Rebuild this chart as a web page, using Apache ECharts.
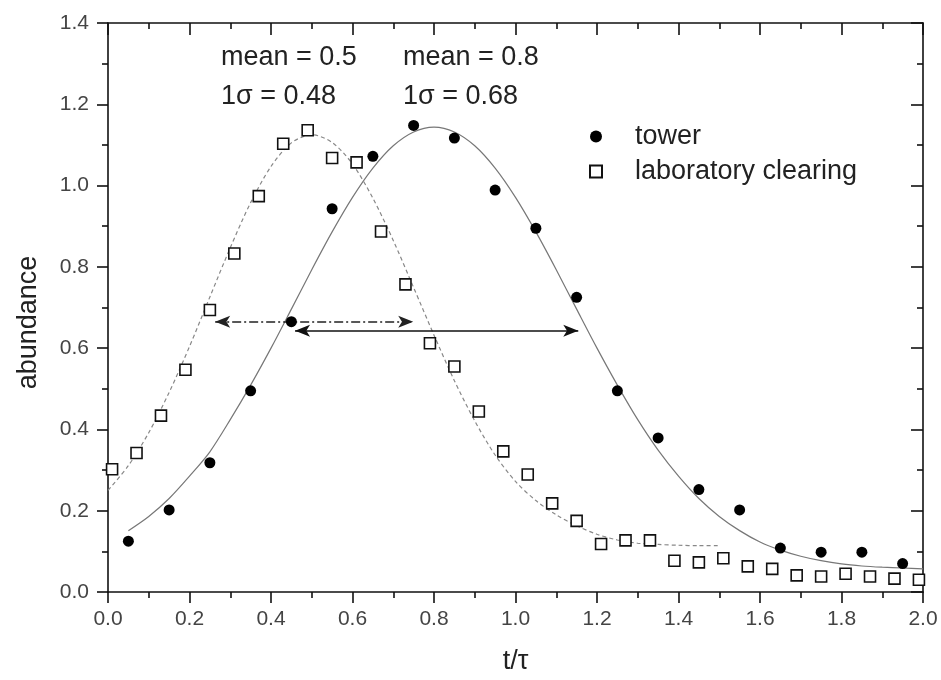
<!DOCTYPE html>
<html>
<head>
<meta charset="utf-8">
<script src="https://cdn.jsdelivr.net/npm/echarts@6/dist/echarts.min.js"></script>
<style>
html,body{margin:0;padding:0;background:#fff;}
#chart{width:941px;height:680px;}
</style>
</head>
<body>
<div id="chart"></div>
<script>
// ---- data ----
var towerX = [0.05,0.15,0.25,0.35,0.45,0.55,0.65,0.75,0.85,0.95,1.05,1.15,1.25,1.35,1.45,1.55,1.65,1.75,1.85,1.95];
var towerY = [0.125,0.202,0.318,0.495,0.665,0.943,1.072,1.148,1.117,0.989,0.895,0.725,0.495,0.379,0.252,0.202,0.108,0.098,0.098,0.070];

var labX = [0.01,0.07,0.13,0.19,0.25,0.31,0.37,0.43,0.49,0.55,0.61,0.67,0.73,0.79,0.85,0.91,0.97,1.03,1.09,1.15,1.21,1.27,1.33,1.39,1.45,1.51,1.57,1.63,1.69,1.75,1.81,1.87,1.93,1.99];
var labY = [0.302,0.342,0.434,0.547,0.694,0.833,0.974,1.103,1.136,1.068,1.057,0.887,0.757,0.612,0.555,0.444,0.346,0.289,0.218,0.175,0.118,0.127,0.127,0.077,0.073,0.083,0.063,0.057,0.041,0.038,0.045,0.038,0.033,0.030];

var towerFitX = [0.05,0.10,0.15,0.20,0.25,0.30,0.35,0.40,0.45,0.50,0.55,0.60,0.65,0.70,0.75,0.80,0.85,0.90,0.95,1.00,1.05,1.10,1.15,1.20,1.25,1.30,1.35,1.40,1.45,1.50,1.55,1.60,1.65,1.70,1.75,1.80,1.85,1.90,1.95,2.00];
var towerFitY = [0.151,0.186,0.230,0.285,0.345,0.424,0.509,0.600,0.696,0.793,0.886,0.971,1.043,1.098,1.132,1.144,1.132,1.098,1.043,0.971,0.886,0.793,0.696,0.600,0.509,0.424,0.349,0.285,0.230,0.186,0.151,0.123,0.103,0.088,0.077,0.069,0.064,0.061,0.059,0.057];

var labFitX = [0.00,0.05,0.10,0.15,0.20,0.25,0.30,0.35,0.40,0.45,0.50,0.55,0.60,0.65,0.70,0.75,0.80,0.85,0.90,0.95,1.00,1.05,1.10,1.15,1.20,1.25,1.30,1.35,1.40,1.45,1.50];
var labFitY = [0.250,0.311,0.392,0.491,0.604,0.726,0.847,0.958,1.047,1.105,1.125,1.106,1.053,0.969,0.865,0.749,0.632,0.520,0.421,0.337,0.272,0.225,0.190,0.163,0.142,0.128,0.120,0.117,0.115,0.114,0.114];

// width arrows (x from, x to, y)
var labArrowX = [0.263, 0.749];
var labArrowY = 0.665;
var towerArrowX = [0.459, 1.154];
var towerArrowY = 0.643;

var xTicks = {min: 0, max: 2.0, interval: 0.2};
var yTicks = {min: 0, max: 1.4, interval: 0.2};

var seriesNames = ['tower', 'laboratory clearing'];
var annotations = [
  {text: 'mean = 0.5', x: 221, y: 60},
  {text: '1\u03c3 = 0.48', x: 221, y: 99},
  {text: 'mean = 0.8', x: 403, y: 60},
  {text: '1\u03c3 = 0.68', x: 403, y: 99}
];

function pairs(xs, ys) { return xs.map(function (x, i) { return [x, ys[i]]; }); }

var FONT = 'Liberation Sans, Arial, sans-serif';
var chart = echarts.init(document.getElementById('chart'), null, {renderer: 'canvas'});

var baseX = {
  type: 'value', min: xTicks.min, max: xTicks.max, interval: xTicks.interval,
  splitLine: {show: false},
  axisLine: {show: true, onZero: false, lineStyle: {color: '#111', width: 1.6}}
};
var baseY = {
  type: 'value', min: yTicks.min, max: yTicks.max, interval: yTicks.interval,
  splitLine: {show: false},
  axisLine: {show: true, onZero: false, lineStyle: {color: '#111', width: 1.6}}
};

var option = {
  backgroundColor: '#fff',
  animation: false,
  textStyle: {fontFamily: FONT},
  grid: {left: 108, right: 18, top: 23, bottom: 86, containLabel: false},
  legend: {
    orient: 'vertical', left: 584, top: 116,
    itemWidth: 12, itemHeight: 12, itemGap: 4,
    data: seriesNames,
    textStyle: {fontSize: 27, color: '#222', fontFamily: FONT, padding: [0, 0, 0, 28], lineHeight: 31}
  },
  xAxis: [
    Object.assign({}, baseX, {
      position: 'bottom',
      name: 't/\u03c4', nameLocation: 'middle', nameGap: 56,
      nameTextStyle: {fontSize: 27, color: '#222', fontFamily: FONT},
      axisTick: {show: true, inside: false, length: 11, lineStyle: {color: '#111', width: 1.6}},
      minorTick: {show: true, splitNumber: 2, length: 6, lineStyle: {color: '#111', width: 1.6}},
      axisLabel: {show: true, margin: 17, fontSize: 21, color: '#444', fontFamily: FONT,
        formatter: function (v) { return v.toFixed(1); }}
    }),
    Object.assign({}, baseX, {
      position: 'top',
      axisTick: {show: true, inside: true, length: 12, lineStyle: {color: '#111', width: 1.6}},
      minorTick: {show: true, splitNumber: 2, length: 6, lineStyle: {color: '#111', width: 1.6}},
      axisLabel: {show: false}
    })
  ],
  yAxis: [
    Object.assign({}, baseY, {
      position: 'left',
      name: 'abundance', nameLocation: 'middle', nameGap: 66,
      nameTextStyle: {fontSize: 27, color: '#222', fontFamily: FONT, padding: [0, 30, 0, 0]},
      axisTick: {show: true, inside: false, length: 11, lineStyle: {color: '#111', width: 1.6}},
      minorTick: {show: true, splitNumber: 2, length: 6, lineStyle: {color: '#111', width: 1.6}},
      axisLabel: {show: true, margin: 19, fontSize: 21, color: '#444', fontFamily: FONT,
        formatter: function (v) { return v.toFixed(1); }}
    }),
    Object.assign({}, baseY, {
      position: 'right',
      axisTick: {show: true, inside: true, length: 12, lineStyle: {color: '#111', width: 1.6}},
      minorTick: {show: true, splitNumber: 2, length: 6, lineStyle: {color: '#111', width: 1.6}},
      axisLabel: {show: false}
    })
  ],
  series: [
    {
      name: 'tower fit', type: 'line', xAxisIndex: 0, yAxisIndex: 0,
      data: pairs(towerFitX, towerFitY), showSymbol: false, smooth: 0.3, z: 2,
      lineStyle: {color: '#777', width: 1.2}, silent: true,
      markLine: {
        silent: true, symbol: ['arrow', 'arrow'], symbolSize: [9, 15],
        label: {show: false},
        lineStyle: {color: '#111', width: 1.6, type: 'solid'},
        data: [[{coord: [towerArrowX[0], towerArrowY]}, {coord: [towerArrowX[1], towerArrowY]}]]
      }
    },
    {
      name: 'lab fit', type: 'line', xAxisIndex: 0, yAxisIndex: 0,
      data: pairs(labFitX, labFitY), showSymbol: false, smooth: 0.3, z: 2,
      lineStyle: {color: '#888', width: 1.2, type: [4, 3]}, silent: true,
      markLine: {
        silent: true, symbol: ['arrow', 'arrow'], symbolSize: [9, 15],
        label: {show: false},
        lineStyle: {color: '#222', width: 1.6, type: [9, 3, 2, 3]},
        data: [[{coord: [labArrowX[0], labArrowY]}, {coord: [labArrowX[1], labArrowY]}]]
      }
    },
    {
      name: seriesNames[0], type: 'scatter', xAxisIndex: 0, yAxisIndex: 0,
      data: pairs(towerX, towerY), symbol: 'circle', symbolSize: 11, z: 5,
      itemStyle: {color: '#000', opacity: 1}
    },
    {
      name: seriesNames[1], type: 'scatter', xAxisIndex: 0, yAxisIndex: 0,
      data: pairs(labX, labY), symbol: 'rect', symbolSize: 11, z: 5,
      itemStyle: {color: '#fff', borderColor: '#111', borderWidth: 1.6, opacity: 1}
    }
  ],
  graphic: annotations.map(function (a) {
    return {
      type: 'text', left: a.x, top: a.y - 16, z: 10,
      style: {text: a.text, fontSize: 27, fill: '#222', font: '27px ' + FONT}
    };
  })
};

chart.setOption(option);
</script>
</body>
</html>
